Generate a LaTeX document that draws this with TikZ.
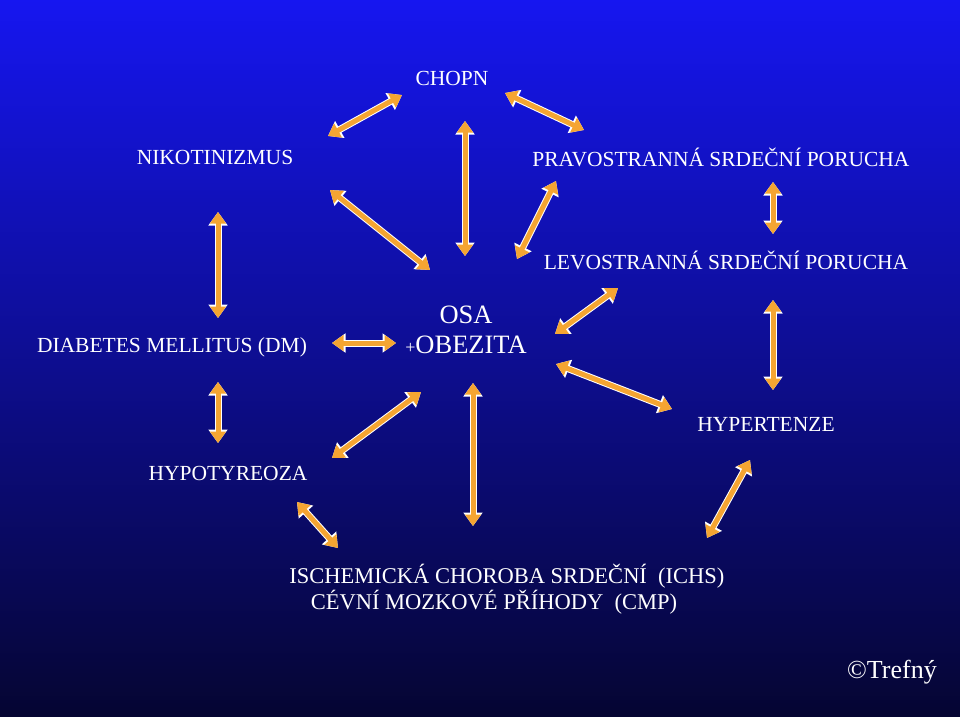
\documentclass[tikz,border=0pt]{standalone}
\usepackage{fontspec}
\setmainfont{Liberation Serif}
\usetikzlibrary{arrows.meta}
\definecolor{arr}{RGB}{245,165,50}
\tikzset{
  lbl/.style={text=white,font=\fontsize{21.5}{23}\selectfont,inner sep=0pt},
  big/.style={text=white,font=\fontsize{26.5}{28}\selectfont,inner sep=0pt},
}
\newcommand{\barr}[2]{%
  \draw[white,line width=7pt,{Triangle[length=13.5pt,width=18.5pt]}-{Triangle[length=13.5pt,width=18.5pt]}] #1 -- #2;
  \draw[arr,line width=5pt,{Triangle[length=11.5pt,width=15.5pt]}-{Triangle[length=11.5pt,width=15.5pt]}] #1 -- #2;}
\begin{document}
\begin{tikzpicture}[x=1pt,y=-1pt]
\shade[top color={rgb,255:red,22;green,22;blue,240},bottom color={rgb,255:red,5;green,5;blue,50}] (0,0) rectangle (960,716);
\useasboundingbox (0,0) rectangle (960,716);
\coordinate (a1) at (328,136); \coordinate (b1) at (402,95);
\coordinate (a2) at (505,93); \coordinate (b2) at (584,130);
\coordinate (a3) at (465,121); \coordinate (b3) at (465,256);
\coordinate (a4) at (330,190); \coordinate (b4) at (430,270);
\coordinate (a5) at (556,181); \coordinate (b5) at (517,259);
\coordinate (a6) at (773,182); \coordinate (b6) at (773,234);
\coordinate (a7) at (218,212); \coordinate (b7) at (218,318);
\coordinate (a8) at (332,343); \coordinate (b8) at (396,343);
\coordinate (a9) at (555,334); \coordinate (b9) at (618,288);
\coordinate (a10) at (556,364); \coordinate (b10) at (672,409);
\coordinate (a11) at (773,300); \coordinate (b11) at (773,390);
\coordinate (a12) at (218,382); \coordinate (b12) at (218,443);
\coordinate (a13) at (332,458); \coordinate (b13) at (421,392);
\coordinate (a14) at (473,383); \coordinate (b14) at (473,526);
\coordinate (a15) at (297,502); \coordinate (b15) at (338,548);
\coordinate (a16) at (707,538); \coordinate (b16) at (750,460);
\foreach \i in {1,...,16}{\barr{(a\i)}{(b\i)}}
\node[lbl] (chopn) at (452,78) {CHOPN};
\node[lbl] (nik) at (215,157) {NIKOTINIZMUS};
\node[lbl] (prav) at (721,157) {PRAVOSTRANNÁ SRDEČNÍ PORUCHA};
\node[lbl] (lev) at (726,260) {LEVOSTRANNÁ SRDEČNÍ PORUCHA};
\node[lbl] (dm) at (172,347) {DIABETES MELLITUS (DM)};
\node[big] (osa) at (466,315) {OSA};
\node[big] (obez) at (466,345) {{\fontsize{18}{20}\selectfont +}OBEZITA};
\node[lbl] (hyp) at (766,424) {HYPERTENZE};
\node[lbl] (hypo) at (228,473) {HYPOTYREOZA};
\node[text=white,font=\fontsize{22.5}{24}\selectfont,inner sep=0pt] (ich) at (507,576) {ISCHEMICKÁ CHOROBA SRDEČNÍ \ (ICHS)};
\node[text=white,font=\fontsize{22.5}{24}\selectfont,inner sep=0pt] (cmp) at (494,602) {CÉVNÍ MOZKOVÉ PŘÍHODY \ (CMP)};
\node[text=white,font=\fontsize{26}{28}\selectfont,inner sep=0pt] (tr) at (892,672) {©Trefný};
\end{tikzpicture}
\end{document}
